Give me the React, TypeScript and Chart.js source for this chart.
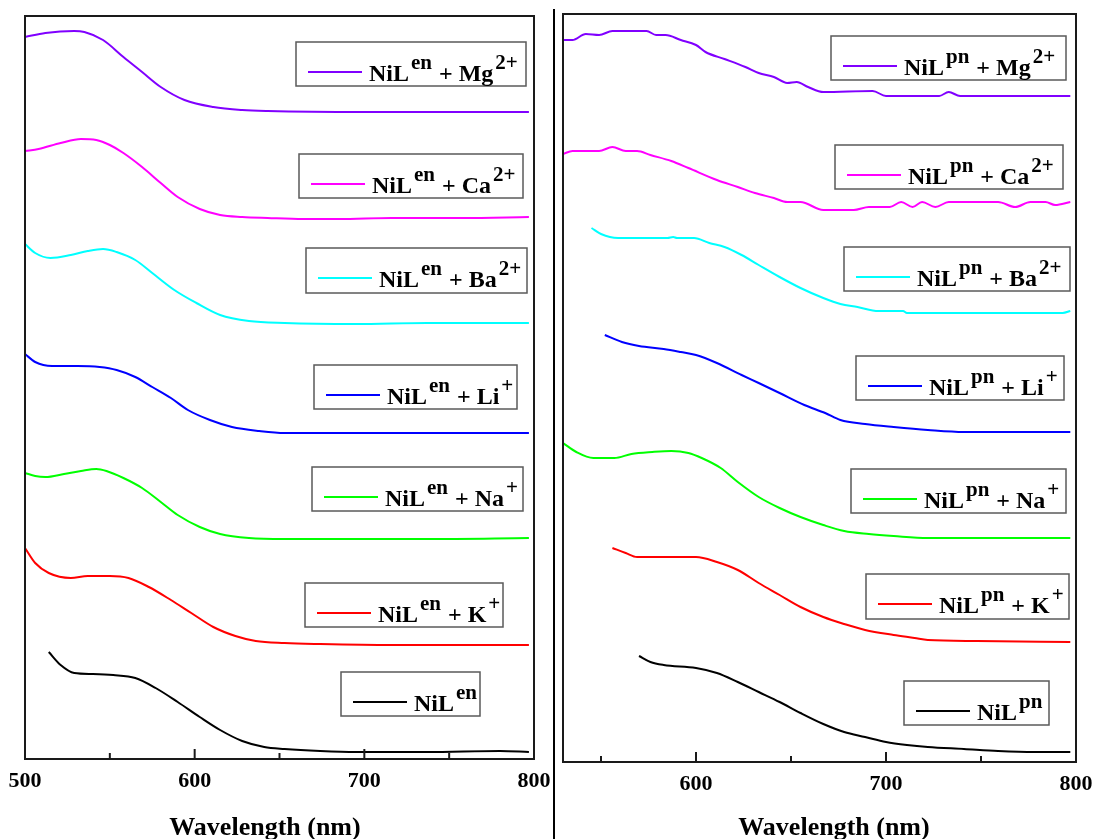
import React, { useEffect, useRef } from "react";
import { Chart, registerables } from "chart.js";

Chart.register(...registerables);

// ---------------- data: left panel (NiL^en) ----------------
const enMgX = [500, 512, 529, 535, 546, 558, 569, 580, 594, 611, 628, 643, 700, 750, 797];
const enMgY = [7.22, 7.26, 7.28, 7.27, 7.19, 7.02, 6.87, 6.72, 6.59, 6.52, 6.49, 6.48, 6.47, 6.47, 6.47];
const enCaX = [500, 508, 521, 533, 542, 550, 558, 569, 580, 590, 603, 615, 628, 643, 664, 685, 716, 758, 797];
const enCaY = [6.08, 6.1, 6.16, 6.2, 6.19, 6.14, 6.06, 5.92, 5.76, 5.62, 5.5, 5.44, 5.42, 5.41, 5.4, 5.4, 5.41, 5.41, 5.42];
const enBaX = [500, 506, 515, 527, 537, 546, 554, 565, 575, 588, 601, 615, 632, 653, 695, 737, 797];
const enBaY = [5.15, 5.06, 5.01, 5.04, 5.08, 5.1, 5.07, 4.99, 4.86, 4.69, 4.56, 4.44, 4.38, 4.36, 4.35, 4.36, 4.36];
const enLiX = [500, 506, 516, 531, 544, 554, 565, 575, 586, 596, 609, 622, 638, 653, 670, 737, 797];
const enLiY = [4.05, 3.97, 3.93, 3.93, 3.92, 3.89, 3.82, 3.72, 3.61, 3.49, 3.39, 3.32, 3.28, 3.26, 3.26, 3.26, 3.26];
const enNaX = [500, 506, 512, 523, 533, 542, 548, 558, 569, 580, 590, 603, 615, 632, 653, 695, 737, 797];
const enNaY = [2.86, 2.83, 2.82, 2.85, 2.88, 2.9, 2.88, 2.81, 2.71, 2.57, 2.44, 2.32, 2.25, 2.21, 2.2, 2.2, 2.2, 2.21];
const enKX = [500, 506, 514, 527, 537, 550, 561, 573, 586, 598, 611, 624, 636, 653, 674, 716, 758, 797];
const enKY = [2.11, 1.96, 1.86, 1.81, 1.83, 1.83, 1.81, 1.72, 1.59, 1.46, 1.32, 1.23, 1.18, 1.16, 1.15, 1.14, 1.14, 1.14];
const enX = [514, 521, 529, 540, 552, 565, 577, 590, 603, 615, 628, 641, 653, 674, 695, 737, 780, 797];
const enY = [1.07, 0.94, 0.86, 0.85, 0.84, 0.81, 0.71, 0.57, 0.42, 0.29, 0.18, 0.12, 0.1, 0.08, 0.07, 0.07, 0.08, 0.07];

// ---------------- data: right panel (NiL^pn) ----------------
const pnMgX = [530, 535, 542, 549, 556, 574, 579, 584, 592, 600, 605, 615, 626, 633, 641, 648, 653, 659, 667, 693, 700, 728, 733, 739, 797];
const pnMgY = [7.22, 7.22, 7.28, 7.27, 7.31, 7.31, 7.27, 7.27, 7.22, 7.17, 7.1, 7.03, 6.95, 6.89, 6.85, 6.79, 6.8, 6.75, 6.7, 6.71, 6.66, 6.66, 6.7, 6.66, 6.66];
const pnCaX = [530, 535, 549, 556, 563, 569, 576, 587, 596, 611, 622, 631, 641, 648, 655, 667, 683, 691, 702, 708, 714, 719, 726, 733, 759, 768, 776, 784, 789, 797];
const pnCaY = [6.08, 6.11, 6.11, 6.15, 6.11, 6.11, 6.07, 6.01, 5.94, 5.82, 5.75, 5.69, 5.64, 5.6, 5.6, 5.52, 5.52, 5.55, 5.55, 5.6, 5.55, 5.6, 5.55, 5.6, 5.6, 5.55, 5.6, 5.6, 5.57, 5.6];
const pnBaX = [545, 550, 559, 585, 588, 590, 599, 607, 615, 624, 633, 644, 655, 667, 676, 685, 696, 709, 711, 793, 797];
const pnBaY = [5.34, 5.28, 5.24, 5.24, 5.25, 5.24, 5.24, 5.19, 5.15, 5.07, 4.97, 4.85, 4.74, 4.64, 4.58, 4.55, 4.51, 4.51, 4.49, 4.49, 4.51];
const pnLiX = [552, 561, 570, 583, 592, 600, 611, 624, 633, 644, 657, 668, 676, 689, 704, 722, 741, 759, 778, 797];
const pnLiY = [4.27, 4.2, 4.16, 4.13, 4.1, 4.07, 3.99, 3.87, 3.79, 3.69, 3.57, 3.49, 3.42, 3.38, 3.35, 3.32, 3.3, 3.3, 3.3, 3.3];
const pnNaX = [530, 537, 546, 557, 566, 577, 587, 596, 603, 613, 622, 633, 644, 655, 667, 678, 691, 704, 722, 741, 769, 797];
const pnNaY = [3.19, 3.1, 3.04, 3.04, 3.08, 3.1, 3.11, 3.09, 3.04, 2.94, 2.8, 2.65, 2.54, 2.45, 2.37, 2.31, 2.28, 2.26, 2.24, 2.24, 2.24, 2.24];
const pnKX = [556, 563, 569, 583, 600, 611, 622, 633, 644, 655, 667, 678, 689, 704, 715, 722, 748, 797];
const pnKY = [2.14, 2.09, 2.05, 2.05, 2.05, 2.0, 1.92, 1.79, 1.67, 1.55, 1.45, 1.38, 1.32, 1.27, 1.24, 1.22, 1.21, 1.2];
const pnX = [570, 576, 583, 600, 611, 622, 633, 644, 655, 667, 678, 689, 700, 711, 722, 741, 759, 778, 797];
const pnY = [1.06, 1.0, 0.97, 0.94, 0.89, 0.8, 0.7, 0.6, 0.49, 0.38, 0.3, 0.25, 0.2, 0.17, 0.15, 0.13, 0.11, 0.1, 0.1];

// ---------------- labels ----------------
const ionNames = ["Mg", "Ca", "Ba", "Li", "Na", "K", ""];
const ionCharges = ["2+", "2+", "2+", "+", "+", "+", ""];
const seriesColors = ["#8000FF", "#FF00FF", "#00FFFF", "#0000FF", "#00FF00", "#FF0000", "#000000"];
const leftTicks = [500, 600, 700, 800];
const leftMinorTicks = [550, 650, 750];
const rightTicks = [600, 700, 800];
const rightMinorTicks = [550, 650, 750];
const axisTitle = "Wavelength (nm)";

const enXs = [enMgX, enCaX, enBaX, enLiX, enNaX, enKX, enX];
const enYs = [enMgY, enCaY, enBaY, enLiY, enNaY, enKY, enY];
const pnXs = [pnMgX, pnCaX, pnBaX, pnLiX, pnNaX, pnKX, pnX];
const pnYs = [pnMgY, pnCaY, pnBaY, pnLiY, pnNaY, pnKY, pnY];

// ---------------- layout (legend boxes: x, y, w, h in canvas px) ----------------
const leftBoxes = [
  [296, 42, 230, 44],
  [299, 154, 224, 44],
  [306, 248, 221, 45],
  [314, 365, 203, 44],
  [312, 467, 211, 44],
  [305, 583, 198, 44],
  [341, 672, 139, 44],
];
const rightBoxes = [
  [276, 36, 235, 44],
  [280, 145, 228, 44],
  [289, 247, 226, 44],
  [301, 356, 208, 44],
  [296, 469, 215, 44],
  [311, 574, 203, 45],
  [349, 681, 145, 44],
];

const FONT = '"Liberation Serif", "Times New Roman", serif';

type PanelCfg = {
  left: number;
  width: number;
  pad: { left: number; right: number; top: number };
  axisH: number;
  xmin: number;
  xmax: number;
  ymax: number;
  ticks: number[];
  minor: number[];
  ligand: string;
  xs: number[][];
  ys: number[][];
  boxes: number[][];
  titleX: number;
};

const leftCfg: PanelCfg = {
  left: 0,
  width: 554,
  pad: { left: 25, right: 20, top: 16 },
  axisH: 80,
  xmin: 500,
  xmax: 800,
  ymax: 7.43,
  ticks: leftTicks,
  minor: leftMinorTicks,
  ligand: "en",
  xs: enXs,
  ys: enYs,
  boxes: leftBoxes,
  titleX: 265,
};

const rightCfg: PanelCfg = {
  left: 555,
  width: 538,
  pad: { left: 8, right: 17, top: 14 },
  axisH: 77,
  xmin: 530,
  xmax: 800,
  ymax: 7.48,
  ticks: rightTicks,
  minor: rightMinorTicks,
  ligand: "pn",
  xs: pnXs,
  ys: pnYs,
  boxes: rightBoxes,
  titleX: 279,
};

function Panel({ cfg }: { cfg: PanelCfg }) {
  const ref = useRef<HTMLCanvasElement>(null);
  useEffect(() => {
    const canvas = ref.current;
    if (!canvas) return;
    const deco = {
      id: "panelDeco",
      afterDraw(chart: any) {
        const ctx = chart.ctx as CanvasRenderingContext2D;
        const ca = chart.chartArea;
        const xs = chart.scales.x;
        ctx.save();
        // frame
        ctx.strokeStyle = "#1a1a1a";
        ctx.lineWidth = 2;
        ctx.strokeRect(ca.left, ca.top, ca.right - ca.left, ca.bottom - ca.top);
        // inner ticks
        const drawTick = (v: number, len: number) => {
          const px = xs.getPixelForValue(v);
          if (px <= ca.left + 1 || px >= ca.right - 1) return;
          ctx.beginPath();
          ctx.moveTo(px, ca.bottom);
          ctx.lineTo(px, ca.bottom - len);
          ctx.stroke();
        };
        cfg.ticks.forEach((v) => drawTick(v, 10));
        cfg.minor.forEach((v) => drawTick(v, 6));
        // legends
        cfg.boxes.forEach((b, i) => {
          const [bx, by, bw, bh] = b;
          ctx.fillStyle = "#ffffff";
          ctx.fillRect(bx, by, bw, bh);
          ctx.strokeStyle = "#5a5a5a";
          ctx.lineWidth = 1.5;
          ctx.strokeRect(bx, by, bw, bh);
          ctx.strokeStyle = seriesColors[i];
          ctx.lineWidth = 2;
          ctx.beginPath();
          ctx.moveTo(bx + 12, by + 30);
          ctx.lineTo(bx + 66, by + 30);
          ctx.stroke();
          const base = by + 38.5;
          const supBase = base - 11.5;
          let tx = bx + 73;
          ctx.fillStyle = "#000";
          ctx.textBaseline = "alphabetic";
          ctx.textAlign = "left";
          ctx.font = `bold 24px ${FONT}`;
          ctx.fillText("NiL", tx, base);
          tx += ctx.measureText("NiL").width + 2;
          ctx.font = `bold 21px ${FONT}`;
          ctx.fillText(cfg.ligand, tx, supBase);
          tx += ctx.measureText(cfg.ligand).width + 1;
          if (ionNames[i]) {
            ctx.font = `bold 24px ${FONT}`;
            const t = " + " + ionNames[i];
            ctx.fillText(t, tx, base);
            tx += ctx.measureText(t).width + 2;
            ctx.font = `bold 21px ${FONT}`;
            ctx.fillText(ionCharges[i], tx, supBase);
          }
        });
        // axis title
        ctx.font = `bold 26px ${FONT}`;
        ctx.textAlign = "center";
        ctx.textBaseline = "alphabetic";
        ctx.fillStyle = "#000";
        ctx.fillText(axisTitle, cfg.titleX, 835);
        ctx.restore();
      },
    };
    const chart = new Chart(canvas, {
      type: "line",
      data: {
        datasets: cfg.xs.map((xArr, i) => ({
          label: "NiL" + cfg.ligand + (ionNames[i] ? " + " + ionNames[i] + ionCharges[i] : ""),
          data: xArr.map((x, j) => ({ x, y: cfg.ys[i][j] })),
          borderColor: seriesColors[i],
          backgroundColor: seriesColors[i],
          borderWidth: 2,
          pointRadius: 0,
          fill: false,
          cubicInterpolationMode: "monotone" as const,
        })),
      },
      options: {
        responsive: false,
        animation: false,
        events: [],
        layout: { padding: { left: cfg.pad.left, right: cfg.pad.right, top: cfg.pad.top, bottom: 0 } },
        plugins: { legend: { display: false }, tooltip: { enabled: false }, title: { display: false } },
        scales: {
          x: {
            type: "linear",
            min: cfg.xmin,
            max: cfg.xmax,
            afterBuildTicks: (s: any) => {
              s.ticks = cfg.ticks.map((v) => ({ value: v }));
            },
            afterFit: (s: any) => {
              s.height = cfg.axisH;
              s.paddingLeft = 0;
              s.paddingRight = 0;
            },
            ticks: {
              color: "#000",
              padding: 9,
              autoSkip: false,
              maxRotation: 0,
              font: { family: FONT, size: 22, weight: "bold" },
            },
            grid: { display: false, drawTicks: false },
            border: { display: false },
          },
          y: { type: "linear", display: false, min: 0, max: cfg.ymax },
        },
      },
      plugins: [deco],
    } as any);
    return () => chart.destroy();
  }, [cfg]);
  return (
    <canvas
      ref={ref}
      width={cfg.width}
      height={839}
      style={{ position: "absolute", left: cfg.left, top: 0, width: cfg.width, height: 839, display: "block" }}
    />
  );
}

export default function App() {
  return (
    <div
      style={{
        position: "fixed",
        left: 0,
        top: 0,
        width: 1093,
        height: 839,
        background: "#ffffff",
        overflow: "hidden",
      }}
    >
      <Panel cfg={leftCfg} />
      <div style={{ position: "absolute", left: 553, top: 9, width: 2, height: 830, background: "#000" }} />
      <Panel cfg={rightCfg} />
    </div>
  );
}
